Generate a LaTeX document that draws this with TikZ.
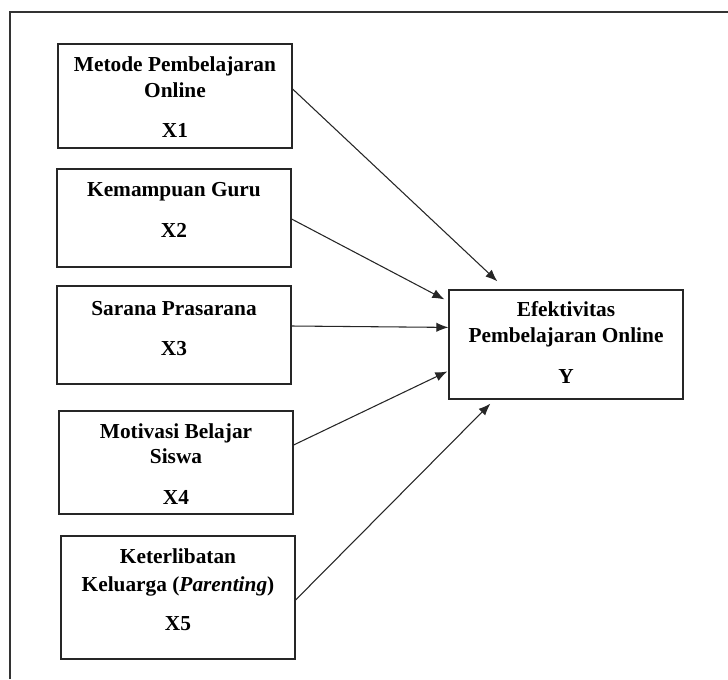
\documentclass[tikz,border=0pt]{standalone}
\usepackage{fontspec}
\setmainfont{Liberation Serif}
\usetikzlibrary{arrows.meta,calc}
\begin{document}
\begin{tikzpicture}[x=0.75pt,y=-0.75pt,
  box/.style={draw=black!85,line width=0.9pt,rectangle,inner sep=0pt,minimum width=175.5pt},
  txt/.style={anchor=base,inner sep=0pt,font=\fontsize{16}{19}\selectfont\bfseries},
  conn/.style={draw=black!85,line width=0.8pt,-{Latex[length=9pt,width=7pt]}},
  frame/.style={draw=black!80,line width=1.1pt}]
\useasboundingbox (0,0) rectangle (728,679);
\coordinate (fa) at (10,679);
\coordinate (fb) at (10,12);
\coordinate (fc) at (728,12);
\draw[frame] (fa) -- (fb) -- (fc);

\node[box,minimum height=78pt] (x1) at (175,96) {};
\node[box,minimum height=73.5pt] (x2) at (174,218) {};
\node[box,minimum height=73.5pt] (x3) at (174,335) {};
\node[box,minimum height=77.25pt] (x4) at (176,462.5) {};
\node[box,minimum height=92.25pt] (x5) at (178,597.5) {};
\node[box,minimum height=81.75pt] (y) at (566,344.5) {};

\node[txt] (x1a) at (175,71) {Metode Pembelajaran};
\node[txt] (x1b) at (175,97) {Online};
\node[txt] (x1c) at (175,137) {X1};

\node[txt] (x2a) at (174,196) {Kemampuan Guru};
\node[txt] (x2b) at (174,237) {X2};

\node[txt] (x3a) at (174,315) {Sarana Prasarana};
\node[txt] (x3b) at (174,355) {X3};

\node[txt] (x4a) at (176,438) {Motivasi Belajar};
\node[txt] (x4b) at (176,463) {Siswa};
\node[txt] (x4c) at (176,504) {X4};

\node[txt] (x5a) at (178,563) {Keterlibatan};
\node[txt] (x5b) at (178,591) {Keluarga (\textit{Parenting})};
\node[txt] (x5c) at (178,630) {X5};

\node[txt] (ya) at (566,316) {Efektivitas};
\node[txt] (yb) at (566,342) {Pembelajaran Online};
\node[txt] (yc) at (566,383) {Y};

\draw[conn] ($(x1.east)+(0,-7)$) -- ($(y.north west)+(49,-8)$);
\draw[conn] ($(x2.east)+(0,1)$) -- ($(y.north west)+(-4,10)$);
\draw[conn] ($(x3.east)+(0,-9)$) -- ($(y.north west)+(0,38)$);
\draw[conn] ($(x4.east)+(0,-17.5)$) -- ($(y.north west)+(-1,82)$);
\draw[conn] ($(x5.east)+(0,2.5)$) -- ($(y.south west)+(42,4)$);
\end{tikzpicture}
\end{document}
